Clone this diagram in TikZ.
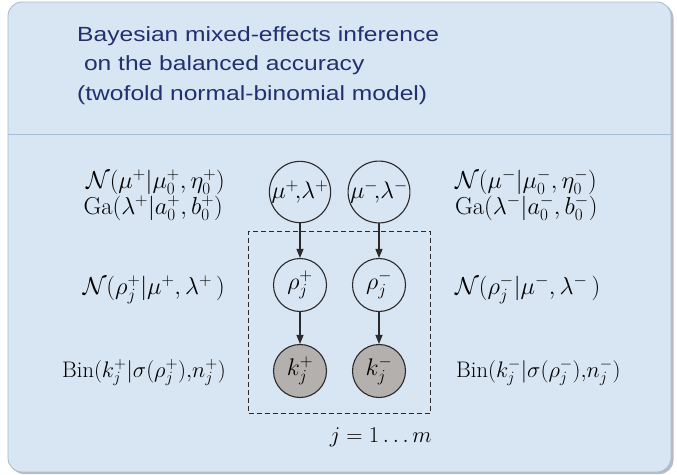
\RequirePackage{fix-cm}
\documentclass[tikz,border=0pt]{standalone}
\usepackage{fontspec}
\newfontfamily\titlefont[FakeStretch=1.2]{Liberation Sans}
\usetikzlibrary{arrows.meta}
\definecolor{boxbg}{HTML}{D8E5F3}
\definecolor{boxedge}{HTML}{A9B9CD}
\definecolor{divider}{HTML}{A7BCD6}
\definecolor{titleblue}{HTML}{22306F}
\definecolor{obsgray}{HTML}{B3B0AD}
\definecolor{inkgray}{HTML}{2A2A2A}
\definecolor{shadowgray}{HTML}{B8BCC2}
\begin{document}
\begin{tikzpicture}[x=1pt,y=-1pt,
  var/.style={circle,draw=inkgray,line width=1.1pt,minimum size=53pt,inner sep=0pt,font=\fontsize{24}{28}\selectfont},
  obs/.style={var,fill=obsgray},
  lbl/.style={font=\fontsize{24.5}{28}\selectfont,inner sep=0pt},
  binlbl/.style={font=\fontsize{22.5}{26}\selectfont,inner sep=0pt},
  edge/.style={draw=inkgray,line width=1.1pt,-{Triangle[length=9pt,width=7pt]}},
  ttl/.style={font=\titlefont\fontsize{20.5}{24}\selectfont,text=titleblue,inner sep=0pt,anchor=base west}]
\useasboundingbox (0,0) rectangle (677,474);
% panel
\fill[shadowgray,rounded corners=14pt] (10,4) rectangle (673.5,474);
\filldraw[fill=boxbg,draw=boxedge,line width=0.8pt,rounded corners=14pt] (8,2) rectangle (671,472);
\draw[divider,line width=1pt] (8.4,134) -- (670.6,134);
% title
\node[ttl] (t1) at (77,41) {Bayesian mixed-effects inference};
\node[ttl] (t2) at (77,70.5) {\ on the balanced accuracy};
\node[ttl] (t3) at (77,100) {(twofold normal-binomial model)};
% plate
\node[draw=inkgray,line width=1pt,dash pattern=on 5pt off 3pt,minimum width=181.5pt,minimum height=182pt,inner sep=0pt] (plate) at (339.25,322) {};
\node[binlbl,anchor=base east] (plab) at (432,442) {$j = 1 \ldots m$};
% variables
\node[var] (mup) at (300,192) {$\mu^+\!,\!\lambda^+$};
\node[var] (mum) at (379,192) {$\mu^-\!,\!\lambda^-$};
\node[var] (rhop) at (300,285) {$\rho_j^+$};
\node[var] (rhom) at (379,285) {$\rho_j^-$};
\node[obs] (kp) at (300,371) {$k_j^+$};
\node[obs] (km) at (379,371) {$k_j^-$};
\draw[edge] (mup) -- (rhop);
\draw[edge] (mum) -- (rhom);
\draw[edge] (rhop) -- (kp);
\draw[edge] (rhom) -- (km);
% left labels
\node[lbl,anchor=base east] (lN) at (225,188) {$\mathcal{N}(\mu^+|\mu_0^+,\eta_0^+)$};
\node[lbl,anchor=base east] (lGa) at (223,214) {$\mathrm{Ga}(\lambda^+|a_0^+,b_0^+)$};
\node[lbl,anchor=base east] (lrho) at (225,294) {$\mathcal{N}\bigl(\rho_j^+|\mu^+,\lambda^+\,\bigr)$};
\node[binlbl,anchor=base east] (lk) at (226,377) {$\mathrm{Bin}\bigl(k_j^+|\sigma(\rho_j^+){,}n_j^+\bigr)$};
% right labels
\node[lbl,anchor=base west] (rN) at (455,188) {$\mathcal{N}(\mu^-|\mu_0^-,\eta_0^-)$};
\node[lbl,anchor=base west] (rGa) at (455,214) {$\mathrm{Ga}(\lambda^-|a_0^-,b_0^-)$};
\node[lbl,anchor=base west] (rrho) at (455,294) {$\mathcal{N}\bigl(\rho_j^-|\mu^-,\lambda^-\,\bigr)$};
\node[binlbl,anchor=base west] (rk) at (456,377) {$\mathrm{Bin}\bigl(k_j^-|\sigma(\rho_j^-){,}n_j^-\bigr)$};
\end{tikzpicture}
\end{document}
